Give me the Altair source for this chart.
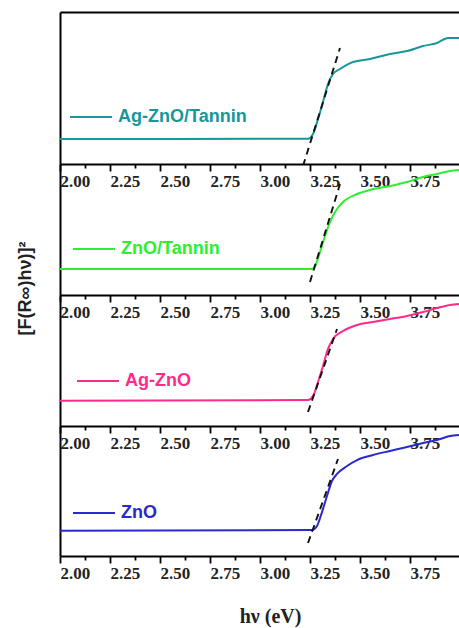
import altair as alt
import pandas as pd

# ---- data (x in eV, y in normalised a.u. per panel) ----
names = ["Ag-ZnO/Tannin", "ZnO/Tannin", "Ag-ZnO", "ZnO"]
colors = ["#17979a", "#2eee2e", "#ff2a8a", "#2a2acc"]

x1 = [2.00, 3.24, 3.265, 3.29, 3.315, 3.34, 3.365, 3.40, 3.465, 3.55, 3.65, 3.735, 3.815, 3.885, 3.94, 3.995]
y1 = [0.164, 0.166, 0.197, 0.296, 0.408, 0.526, 0.592, 0.625, 0.671, 0.691, 0.724, 0.743, 0.776, 0.796, 0.829, 0.829]

x2 = [2.00, 3.26, 3.275, 3.30, 3.325, 3.35, 3.375, 3.415, 3.485, 3.55, 3.65, 3.735, 3.815, 3.885, 3.95, 3.995]
y2 = [0.198, 0.198, 0.221, 0.328, 0.450, 0.557, 0.634, 0.710, 0.771, 0.802, 0.832, 0.863, 0.901, 0.924, 0.947, 0.954]

x3 = [2.00, 3.24, 3.265, 3.29, 3.315, 3.34, 3.365, 3.415, 3.485, 3.565, 3.65, 3.735, 3.815, 3.885, 3.95, 3.995]
y3 = [0.193, 0.198, 0.229, 0.336, 0.458, 0.588, 0.664, 0.725, 0.771, 0.794, 0.817, 0.840, 0.870, 0.901, 0.924, 0.931]

x4 = [2.00, 3.26, 3.285, 3.31, 3.335, 3.36, 3.385, 3.435, 3.485, 3.565, 3.65, 3.735, 3.815, 3.885, 3.95, 3.995]
y4 = [0.195, 0.200, 0.231, 0.338, 0.462, 0.577, 0.631, 0.692, 0.738, 0.777, 0.808, 0.838, 0.869, 0.892, 0.923, 0.931]

# tangent (dashed) lines
dx1, dy1 = [3.215, 3.40], [-0.013, 0.763]
dx2, dy2 = [3.25, 3.40], [0.099, 0.847]
dx3, dy3 = [3.24, 3.385], [0.107, 0.740]
dx4, dy4 = [3.24, 3.39], [0.100, 0.746]

tick_values = [2.0, 2.125, 2.25, 2.375, 2.5, 2.625, 2.75, 2.875,
               3.0, 3.125, 3.25, 3.375, 3.5, 3.625, 3.75, 3.875]
tick_labels = ["2.00", "2.25", "2.50", "2.75", "3.00", "3.25", "3.50", "3.75"]

legend_y = [83, 63, 64, 65]
legend_x = [9, 12, 16, 12]
heights = [152, 131, 131, 130]

W = 399
xscale = alt.Scale(domain=[2.0, 3.995], nice=False, zero=False)
yscale = alt.Scale(domain=[0, 1], nice=False, zero=False)

label_expr = ("round(datum.value*8) % 2 == 0 ? "
              "format(datum.value, '.2f') : ''")


def x_axis(title=None):
    kw = dict(
        values=tick_values,
        labelExpr=label_expr,
        tickSize={"condition": {"test": "round(datum.value*8) % 2 == 0", "value": 7}, "value": 4},
        tickWidth=1.8,
        tickColor="black",
        domainColor="black",
        domainWidth=2,
        labelAlign="left",
        labelFont="Liberation Serif",
        labelFontWeight="bold",
        labelFontSize=17,
        labelColor="#222222",
        labelPadding=2,
        labelFlush=False,
        labelOverlap=False,
        grid=False,
    )
    if title:
        kw.update(title=title, titleFont="Liberation Serif", titleFontSize=20,
                  titleFontWeight="bold", titleColor="#222222",
                  titleX=210, titleY=60, titleBaseline="middle", titleAlign="center")
    else:
        kw.update(title=None)
    return alt.Axis(**kw)


def y_axis(title=None):
    kw = dict(ticks=False, labels=False, grid=False, domainColor="black", domainWidth=2)
    if title:
        kw.update(title=title, titleFont="Liberation Sans", titleFontSize=18,
                  titleFontWeight="bold", titleColor="#222222", titleAngle=270,
                  titleX=-35, titleY=124, titleAlign="center", titleBaseline="middle")
    else:
        kw.update(title=None)
    return alt.Axis(**kw)


def panel(i, xs, ys, dxs, dys, top=False, ytitle=None, xtitle=None):
    df = pd.DataFrame({"x": xs, "y": ys, "series": names[i]})
    dd = pd.DataFrame({"x": dxs, "y": dys})
    line = alt.Chart(df).mark_line(clip=True, strokeWidth=2, interpolate="monotone").encode(
        x=alt.X("x:Q", scale=xscale, axis=x_axis(xtitle)),
        y=alt.Y("y:Q", scale=yscale, axis=y_axis(ytitle)),
        color=alt.Color("series:N",
                        scale=alt.Scale(domain=[names[i]], range=[colors[i]]),
                        legend=alt.Legend(orient="none", legendX=legend_x[i], legendY=legend_y[i],
                                          title=None, symbolType="stroke", symbolSize=1764,
                                          symbolStrokeWidth=2, labelFont="Liberation Sans",
                                          labelFontSize=18, labelFontWeight="bold",
                                          labelColor=colors[i], labelOffset=5, padding=0)),
    )
    if top:
        dash_x = alt.X("x:Q", scale=xscale,
                       axis=alt.Axis(orient="top", ticks=False, labels=False, grid=False,
                                     domainColor="black", domainWidth=2, title=None))
    else:
        dash_x = alt.X("x:Q", scale=xscale, axis=x_axis(xtitle))
    dashed = alt.Chart(dd).mark_line(clip=True, color="#111111", strokeDash=[7, 5],
                                     strokeWidth=1.9).encode(
        x=dash_x,
        y=alt.Y("y:Q", scale=yscale, axis=y_axis(ytitle)),
    )
    lay = alt.layer(line, dashed)
    if top:
        lay = lay.resolve_axis(x="independent")
    return lay.properties(width=W, height=heights[i])


p1 = panel(0, x1, y1, dx1, dy1, top=True)
p2 = panel(1, x2, y2, dx2, dy2, ytitle="[F(R∞)hν)]²")
p3 = panel(2, x3, y3, dx3, dy3)
p4 = panel(3, x4, y4, dx4, dy4, xtitle="hν (eV)")

chart = alt.vconcat(p1, p2, p3, p4, spacing=0, bounds="flush").resolve_scale(
    color="independent").resolve_legend(color="independent").properties(
    padding={"left": 16, "top": 12, "right": 0, "bottom": 2},
    background="white",
).configure_view(stroke=None)

chart.save("out.html", embed_options={"renderer": "svg", "actions": False})
